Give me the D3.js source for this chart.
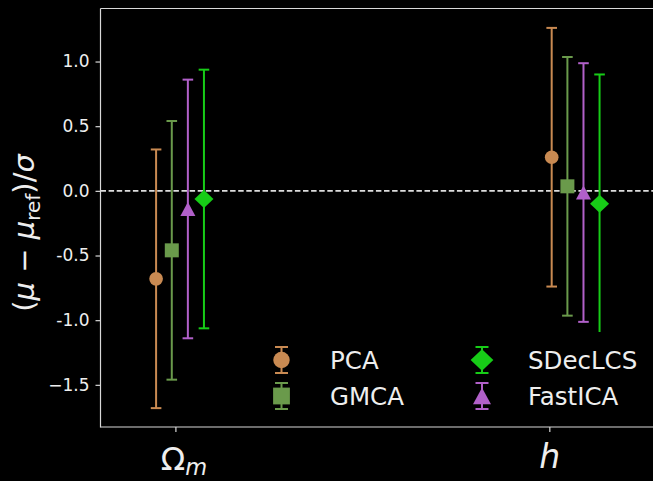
<!DOCTYPE html>
<html>
<head>
<meta charset="utf-8">
<script src="https://cdn.jsdelivr.net/npm/d3@7"></script>
<style>
  html, body { margin: 0; padding: 0; background: #000; }
  svg { display: block; }
</style>
</head>
<body>
<script>
// Parameters on the x axis and where their ticks sit (data units)
const params = ["Omega_m", "h"];
const paramTicks = [0, 1];
const paramCenters = [0, 1.058];

// Methods, their colours, marker shapes and horizontal offsets within a group
const methods = ["PCA", "GMCA", "FastICA", "SDecLCS"];
const colors = ["#c98a52", "#6a9a4b", "#b160c9", "#17cc17"];
const shapes = ["circle", "square", "triangle", "diamond"];
const offsets = [-0.053, -0.011, 0.032, 0.075];

// Normalised bias (mu - mu_ref)/sigma per method, for [Omega_m, h]
const pcaValues = [-0.68, 0.26];
const gmcaValues = [-0.46, 0.035];
const fastIcaValues = [-0.14, -0.013];
const sdecValues = [-0.063, -0.10];
const seriesValues = [pcaValues, gmcaValues, fastIcaValues, sdecValues];

// One-sigma error (in units of sigma)
const pcaErrors = [1.0, 1.0];
const gmcaErrors = [1.0, 1.0];
const fastIcaErrors = [1.0, 1.0];
const sdecErrors = [1.0, 1.0];
const seriesErrors = [pcaErrors, gmcaErrors, fastIcaErrors, sdecErrors];

// Y tick values and their labels
const yTicks = [-1.5, -1.0, -0.5, 0.0, 0.5, 1.0];
const yTickLabels = ["\u22121.5", "-1.0", "-0.5", "0.0", "0.5", "1.0"];

// Legend order (two columns)
const legendOrder = ["PCA", "GMCA", "SDecLCS", "FastICA"];

const W = 653, H = 481;
const plot = { left: 100.5, top: 8.5, bottom: 427, right: 662 };

const svg = d3.select("body").append("svg")
  .attr("width", W).attr("height", H)
  .style("font-family", "'DejaVu Sans', sans-serif");

svg.append("rect").attr("width", W).attr("height", H).attr("fill", "#000");

const x = d3.scaleLinear().domain([-0.203, 1.30]).range([100, plot.right]);
const y = d3.scaleLinear().domain([-1.826, 1.41]).range([plot.bottom, plot.top]);

const axisColor = "#d8d8d8";
const textColor = "#eeeeee";

// Reference line at zero
svg.append("line")
  .attr("x1", plot.left).attr("x2", W)
  .attr("y1", y(0)).attr("y2", y(0))
  .attr("stroke", "#dddddd").attr("stroke-width", 1.6)
  .attr("stroke-dasharray", "5.5,2.6");

// Marker path generator
function markerPath(shape, s) {
  const h = s / 2;
  switch (shape) {
    case "circle":
      return d3.symbol(d3.symbolCircle, Math.PI * h * h)();
    case "square":
      return `M${-h},${-h}H${h}V${h}H${-h}Z`;
    case "triangle":
      return `M0,${-h * 0.93}L${h},${h * 0.93}L${-h},${h * 0.93}Z`;
    case "diamond":
      return `M0,${-h * 0.95}L${h},0L0,${h * 0.95}L${-h},0Z`;
  }
}
const markerSize = { circle: 13.7, square: 14, triangle: 15, diamond: 19 };

// Error bars and markers
const capHalf = 5.3;
methods.forEach((m, i) => {
  const g = svg.append("g").attr("class", "series-" + m);
  params.forEach((p, j) => {
    const cx = x(paramCenters[j] + offsets[i]);
    const v = seriesValues[i][j], e = seriesErrors[i][j];
    const yTop = y(v + e), yBot = y(v - e);
    g.append("line").attr("x1", cx).attr("x2", cx).attr("y1", yTop).attr("y2", yBot)
      .attr("stroke", colors[i]).attr("stroke-width", 2);
    [yTop, yBot].forEach(yy => {
      g.append("line").attr("x1", cx - capHalf).attr("x2", cx + capHalf)
        .attr("y1", yy).attr("y2", yy)
        .attr("stroke", colors[i]).attr("stroke-width", 2);
    });
    g.append("path").attr("d", markerPath(shapes[i], markerSize[shapes[i]]))
      .attr("transform", `translate(${cx},${y(v)})`)
      .attr("fill", colors[i]);
  });
});

// Spines
svg.append("line").attr("x1", plot.left).attr("x2", plot.left)
  .attr("y1", plot.top).attr("y2", plot.bottom + 0.5)
  .attr("stroke", axisColor).attr("stroke-width", 1.2);
svg.append("line").attr("x1", plot.left).attr("x2", W)
  .attr("y1", plot.top).attr("y2", plot.top)
  .attr("stroke", axisColor).attr("stroke-width", 1.2);
svg.append("line").attr("x1", plot.left).attr("x2", W)
  .attr("y1", plot.bottom).attr("y2", plot.bottom)
  .attr("stroke", axisColor).attr("stroke-width", 1.2);

// Y axis
const yAxis = d3.axisLeft(y).tickValues(yTicks)
  .tickFormat((d, i) => yTickLabels[i]).tickSize(5).tickPadding(6);
const yg = svg.append("g").attr("transform", `translate(${plot.left},0)`).call(yAxis);
yg.select(".domain").remove();
yg.selectAll(".tick line").attr("stroke", axisColor).attr("stroke-width", 1.2);
yg.selectAll(".tick text").attr("fill", textColor)
  .style("font-family", "'DejaVu Sans', sans-serif").style("font-size", "17px");

// X axis ticks
const xg = svg.append("g");
paramTicks.forEach(t => {
  xg.append("line").attr("x1", x(t)).attr("x2", x(t))
    .attr("y1", plot.bottom).attr("y2", plot.bottom + 5)
    .attr("stroke", axisColor).attr("stroke-width", 1.2);
});
// Omega_m label
const om = xg.append("text").attr("x", x(paramTicks[0])).attr("y", 470)
  .attr("dx", 8).attr("text-anchor", "middle").attr("fill", textColor)
  .style("font-size", "32px");
om.append("tspan").text("\u03A9");
om.append("tspan").attr("font-style", "italic").attr("dy", 5)
  .style("font-size", "22.5px").text("m");
// h label
xg.append("text").attr("x", x(paramTicks[1])).attr("y", 468)
  .attr("text-anchor", "middle").attr("fill", textColor)
  .attr("font-style", "italic").style("font-size", "33px").text("h");

// Y axis label
const yl = svg.append("text")
  .attr("transform", `translate(34,${233}) rotate(-90)`)
  .attr("text-anchor", "middle").attr("fill", textColor)
  .style("font-size", "29px");
yl.append("tspan").text("(");
yl.append("tspan").attr("font-style", "italic").text("\u03BC");
yl.append("tspan").text(" \u2212 ");
yl.append("tspan").attr("font-style", "italic").text("\u03BC");
yl.append("tspan").attr("dy", 6).style("font-size", "20px").text("ref");
yl.append("tspan").attr("dy", -6).text(")/");
yl.append("tspan").attr("font-style", "italic").text("\u03C3");

// Legend (opaque background, no frame)
const legend = svg.append("g");
legend.append("rect").attr("x", 262).attr("y", 332).attr("width", 384).attr("height", 88)
  .attr("fill", "#000");
const legendCols = [281.5, 482], legendTextX = [330, 528], legendRows = [360, 396];
const legendScale = 1.2;
legendOrder.forEach((name, k) => {
  const i = methods.indexOf(name);
  const col = Math.floor(k / 2), row = k % 2;
  const cx = legendCols[col], cy = legendRows[row];
  const lg = legend.append("g");
  lg.append("line").attr("x1", cx).attr("x2", cx).attr("y1", cy - 13).attr("y2", cy + 13)
    .attr("stroke", colors[i]).attr("stroke-width", 2);
  [cy - 13, cy + 13].forEach(yy => {
    lg.append("line").attr("x1", cx - 6.5).attr("x2", cx + 6.5).attr("y1", yy).attr("y2", yy)
      .attr("stroke", colors[i]).attr("stroke-width", 2);
  });
  lg.append("path").attr("d", markerPath(shapes[i], markerSize[shapes[i]] * legendScale))
    .attr("transform", `translate(${cx},${cy})`).attr("fill", colors[i]);
  lg.append("text").attr("x", legendTextX[col]).attr("y", cy + 8.5)
    .attr("fill", textColor).style("font-size", "24.5px").text(name);
});
</script>
</body>
</html>
